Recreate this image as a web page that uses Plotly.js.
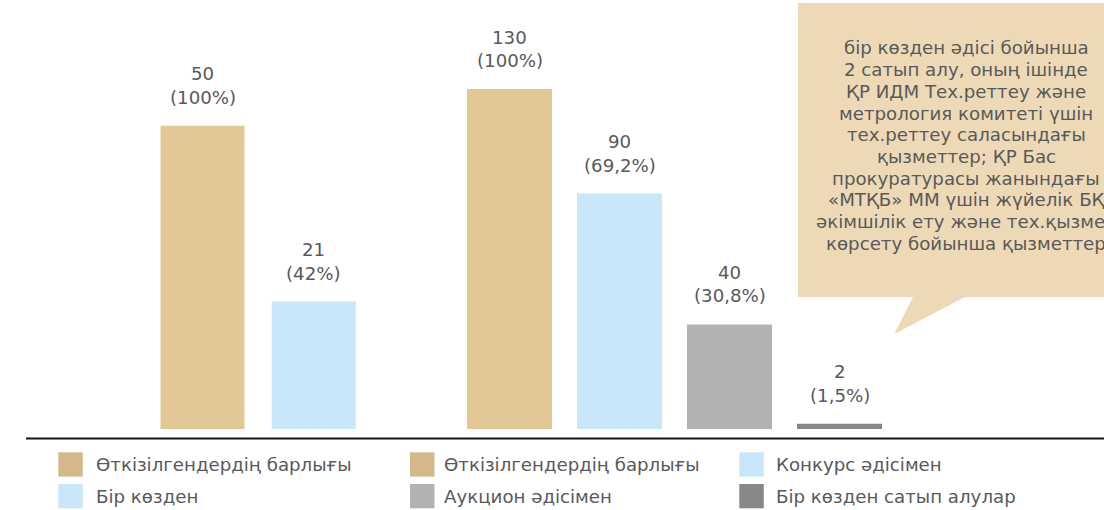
<!DOCTYPE html>
<html>
<head>
<meta charset="utf-8">
<script src="https://cdn.plot.ly/plotly-3.0.1.min.js"></script>
<style>html,body{margin:0;padding:0;background:#fff;}#chart{width:1104px;height:510px;}</style>
</head>
<body>
<div id="chart"></div>
<script>
// ---- data ----
const group1Categories = ["Өткізілгендердің барлығы", "Бір көзден"];
const group1Values = [50, 21];
const group1Percents = ["(100%)", "(42%)"];

const group2Categories = ["Өткізілгендердің барлығы", "Конкурс әдісімен", "Аукцион әдісімен", "Бір көзден сатып алулар"];
const group2Values = [130, 90, 40, 2];
const group2Percents = ["(100%)", "(69,2%)", "(30,8%)", "(1,5%)"];

const legendLabels = ["Өткізілгендердің барлығы", "Өткізілгендердің барлығы", "Конкурс әдісімен",
                      "Бір көзден", "Аукцион әдісімен", "Бір көзден сатып алулар"];

const calloutLines = [
  "бір көзден әдісі бойынша",
  "2 сатып алу, оның ішінде",
  "ҚР ИДМ Тех.реттеу және",
  "метрология комитеті үшін",
  "тех.реттеу саласындағы",
  "қызметтер; ҚР Бас",
  "прокуратурасы жанындағы",
  "«МТҚБ» ММ үшін жүйелік БҚ",
  "әкімшілік ету және тех.қызмет",
  "көрсету бойынша қызметтер"
];

// ---- styles ----
const TAN = "#E3C895", BLUE = "#C9E7F8", GRAY = "#B2B2B2", DARK = "#878787";
const LEG_TAN = "#D3B98A", CALLOUT = "#EDD9B5", TXT = "#58595B";
const group1Colors = [TAN, BLUE];
const group2Colors = [TAN, BLUE, GRAY, DARK];
const legendColors = [LEG_TAN, LEG_TAN, BLUE, BLUE, GRAY, DARK];
const FONT = "DejaVu Sans, sans-serif";
const FS = 18.2;

const W = 1104, TOP = 20, BOT = 429, H = BOT - TOP;
const px = v => v / W;
const py = v => (BOT - v) / H;

const traces = [
  {type: "bar", x: group1Categories, y: group1Values, xaxis: "x", yaxis: "y",
   marker: {color: group1Colors}, width: 0.755, hoverinfo: "skip", showlegend: false},
  {type: "bar", x: group2Categories, y: group2Values, xaxis: "x2", yaxis: "y2",
   marker: {color: group2Colors}, width: 0.773, hoverinfo: "skip", showlegend: false}
];

const annotations = [];
function barLabels(cats, vals, pcts, xr, yr) {
  cats.forEach((c, i) => {
    annotations.push({x: c, y: vals[i], xref: xr, yref: yr, text: String(vals[i]), showarrow: false,
      yanchor: "middle", yshift: 52, borderpad: 0, font: {family: FONT, size: FS, color: TXT}});
    annotations.push({x: c, y: vals[i], xref: xr, yref: yr, text: pcts[i], showarrow: false,
      yanchor: "middle", yshift: 28.5, borderpad: 0, font: {family: FONT, size: FS, color: TXT}});
  });
}
barLabels(group1Categories, group1Values, group1Percents, "x", "y");
barLabels(group2Categories, group2Values, group2Percents, "x2", "y2");

calloutLines.forEach((t, i) => {
  annotations.push({x: px(966), y: py(48 + i * 21.67), xref: "paper", yref: "paper", text: t,
    showarrow: false, xanchor: "center", yanchor: "middle", borderpad: 0,
    font: {family: FONT, size: FS, color: TXT}});
});

const shapes = [];
// callout bubble
const cp = [[798,3],[1112,3],[1112,297],[965,297],[894.3,334],[913,297],[798,297]];
shapes.push({type: "path", xref: "paper", yref: "paper", layer: "below",
  path: "M " + cp.map(p => px(p[0]) + "," + py(p[1])).join(" L ") + " Z",
  fillcolor: CALLOUT, line: {width: 0}});
// baseline
shapes.push({type: "line", xref: "paper", yref: "paper", x0: px(26), x1: 1, y0: py(438.5), y1: py(438.5),
  line: {color: "#151515", width: 2.2}});

// legend (manual)
const colX = [58.3, 410, 739.3], textX = [95, 443, 775];
const rowTop = [452.3, 484];
legendLabels.forEach((lab, i) => {
  const c = i % 3, r = Math.floor(i / 3);
  shapes.push({type: "rect", xref: "paper", yref: "paper",
    x0: px(colX[c]), x1: px(colX[c] + 24.5), y0: py(rowTop[r]), y1: py(rowTop[r] + 24.3),
    fillcolor: legendColors[i], line: {width: 0}});
  annotations.push({x: px(textX[c]), y: py(rowTop[r] + 12.5), xref: "paper", yref: "paper", text: lab,
    showarrow: false, xanchor: "left", yanchor: "middle", borderpad: 0,
    font: {family: FONT, size: FS, color: TXT}});
});

const hidden = {visible: false, showgrid: false, zeroline: false, fixedrange: true};
const layout = {
  width: 1104, height: 510,
  margin: {l: 0, r: 0, t: TOP, b: 510 - BOT, pad: 0},
  paper_bgcolor: "#fff", plot_bgcolor: "rgba(0,0,0,0)",
  showlegend: false,
  xaxis: Object.assign({}, hidden, {type: "category", domain: [146.9 / W, 369.3 / W], anchor: "y", range: [-0.5, 1.5]}),
  yaxis: Object.assign({}, hidden, {range: [0, 50 * H / 303.3], anchor: "x"}),
  xaxis2: Object.assign({}, hidden, {type: "category", domain: [454.5 / W, 894.5 / W], anchor: "y2", range: [-0.5, 3.5]}),
  yaxis2: Object.assign({}, hidden, {range: [0, 130 * H / 340], anchor: "x2"}),
  shapes: shapes,
  annotations: annotations,
  font: {family: FONT, color: TXT}
};

Plotly.newPlot("chart", traces, layout, {displayModeBar: false, staticPlot: true});
</script>
</body>
</html>
